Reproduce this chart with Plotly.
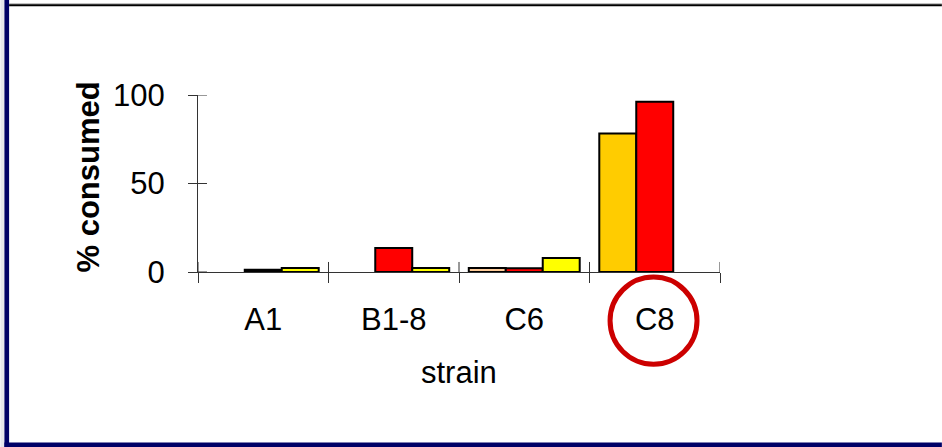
import plotly.graph_objects as go

# ---- data ----
strains = ["A1", "B1-8", "C6", "C8"]
slot1_values = [None, None, 2.3, 78.3]
slot1_colors = ["#FFCC99", "#FFCC99", "#FFCC99", "#FFCC00"]
slot2_values = [1.3, 13.6, 2.1, 96.2]
slot2_colors = ["#000000", "#FF0000", "#FF0000", "#FF0000"]
slot3_values = [2.3, 2.3, 7.9, None]
slot3_colors = ["#FFFF00", "#FFFF00", "#FFFF00", "#FFFF00"]
y_ticks = [0, 50, 100]

W, H = 942, 447
L, R, T, B = 197.7, 222.0, 95.0, 175.3
PW, PH = W - L - R, H - T - B


def px(x):
    return (x - L) / PW


def py(y):
    return (H - B - y) / PH


FONT = "Liberation Sans, Arial, sans-serif"
fig = go.Figure()
for vals, cols in [(slot1_values, slot1_colors), (slot2_values, slot2_colors), (slot3_values, slot3_colors)]:
    fig.add_trace(go.Bar(
        x=strains, y=vals,
        marker=dict(color=cols, line=dict(color="#000000", width=2)),
        showlegend=False,
    ))

axis_col = "#333333"
fig.update_layout(
    width=W, height=H,
    margin=dict(l=L, r=R, t=T, b=B, pad=0),
    paper_bgcolor="white", plot_bgcolor="white",
    barmode="group", bargap=0.15, bargroupgap=0,
    font=dict(family=FONT, color="#000000"),
    xaxis=dict(type="category", categoryarray=strains, range=[-0.5, 3.5],
               showgrid=False, zeroline=False, showline=True, linecolor=axis_col, linewidth=1,
               ticks="outside", ticklen=10, tickcolor=axis_col, tickwidth=1, tickson="boundaries",
               tickfont=dict(size=31, family=FONT), ticklabelstandoff=20, automargin=False),
    yaxis=dict(range=[0, 100], tickvals=y_ticks, showgrid=False, zeroline=False,
               showline=True, linecolor=axis_col, linewidth=1,
               ticks="outside", ticklen=9, tickcolor=axis_col, tickwidth=1,
               tickfont=dict(size=31, family=FONT), ticklabelstandoff=17, automargin=False),
)

# axis titles
fig.add_annotation(text="strain", xref="paper", yref="paper", x=px(458.8), y=py(372),
                   xanchor="center", yanchor="middle", showarrow=False,
                   font=dict(size=31, family=FONT, color="#000000"))
fig.add_annotation(text="<b>% consumed</b>", xref="paper", yref="paper", x=px(88), y=py(177),
                   xanchor="center", yanchor="middle", showarrow=False, textangle=-90,
                   font=dict(size=31, family=FONT, color="#000000"))

shapes = []
# inner half of the crossing tick marks (outer half drawn by the axes)
for v in y_ticks:
    shapes.append(dict(type="line", xref="paper", yref="y", x0=0, x1=px(L + 9), y0=v, y1=v,
                       line=dict(color=axis_col, width=1), layer="above"))
for i in range(len(strains) + 1):
    shapes.append(dict(type="line", xref="x", yref="paper", x0=i - 0.5, x1=i - 0.5, y0=0, y1=py(271.7 - 10),
                       line=dict(color=axis_col, width=1), layer="above"))

# slide frame decorations
navy = "#000066"
frame = [
    dict(type="rect", x0=px(0), x1=px(4), y0=py(0), y1=py(H), fillcolor="#E6E6EC", line=dict(width=0)),
    dict(type="rect", x0=px(4), x1=px(8.7), y0=py(0), y1=py(H), fillcolor=navy, line=dict(width=0)),
    dict(type="rect", x0=px(4), x1=px(W), y0=py(442), y1=py(H), fillcolor=navy, line=dict(width=0)),
    dict(type="line", x0=px(8.7), x1=px(W), y0=py(4), y1=py(4), line=dict(color="#A0A0A0", width=1)),
    dict(type="line", x0=px(8.7), x1=px(W), y0=py(5.5), y1=py(5.5), line=dict(color="#000000", width=2)),
    # highlight circle around C8
    dict(type="circle", x0=px(653.5 - 43.5), x1=px(653.5 + 43.5), y0=py(320.3 + 43.5), y1=py(320.3 - 43.5),
         line=dict(color="#CC0000", width=5)),
]
for s in frame:
    s.update(xref="paper", yref="paper", layer="above")
fig.update_layout(shapes=shapes + frame)

fig.write_html("out.html")
